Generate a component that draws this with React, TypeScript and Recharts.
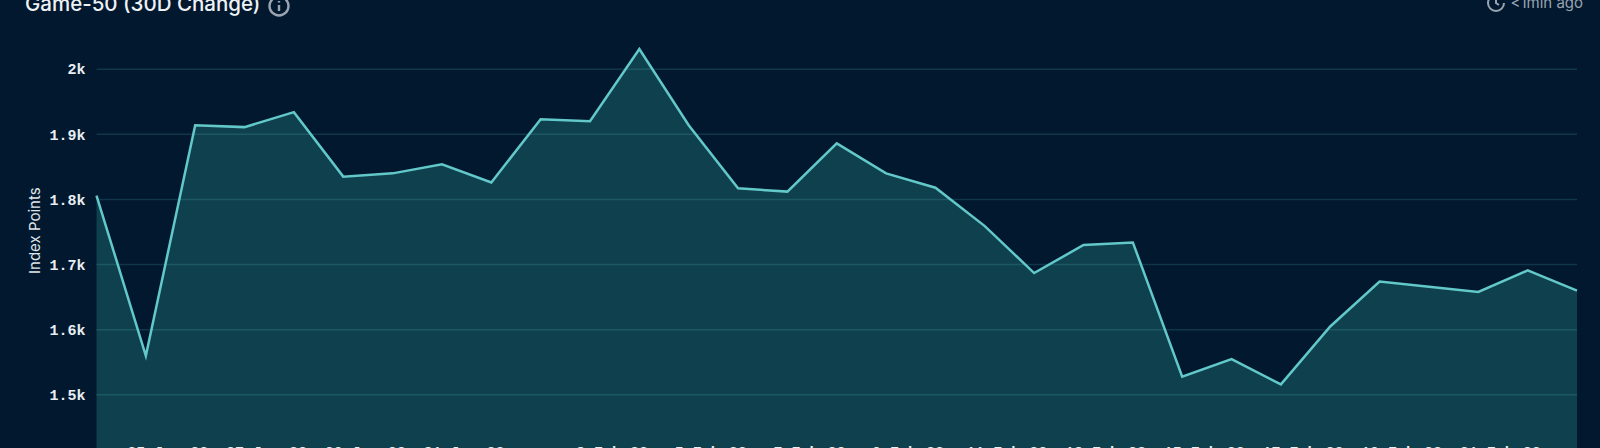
import { Area, AreaChart, CartesianGrid, XAxis, YAxis } from 'recharts'

const dates = [
  '24 Jan 22', '25 Jan 22', '26 Jan 22', '27 Jan 22', '28 Jan 22', '29 Jan 22', '30 Jan 22', '31 Jan 22',
  '1 Feb 22', '2 Feb 22', '3 Feb 22', '4 Feb 22', '5 Feb 22', '6 Feb 22', '7 Feb 22', '8 Feb 22', '9 Feb 22',
  '10 Feb 22', '11 Feb 22', '12 Feb 22', '13 Feb 22', '14 Feb 22', '15 Feb 22', '16 Feb 22', '17 Feb 22',
  '18 Feb 22', '19 Feb 22', '20 Feb 22', '21 Feb 22', '22 Feb 22', '23 Feb 22',
]
const indexPoints = [
  1806, 1560, 1914, 1911, 1934, 1835, 1840, 1854, 1826, 1923, 1920, 2031, 1914, 1817, 1812, 1886, 1840,
  1818, 1759, 1687, 1730, 1734, 1528, 1555, 1516, 1605, 1674, 1666, 1658, 1691, 1660,
]
const xTicks = [
  '25 Jan 22', '27 Jan 22', '29 Jan 22', '31 Jan 22', '3 Feb 22', '5 Feb 22', '7 Feb 22', '9 Feb 22',
  '11 Feb 22', '13 Feb 22', '15 Feb 22', '17 Feb 22', '19 Feb 22', '21 Feb 22',
]
const yTicks = [1500, 1600, 1700, 1800, 1900, 2000]

const chartData = dates.map((date, i) => ({ date, value: indexPoints[i] }))

const monoFont = '"Liberation Mono", monospace'
const uiFont = 'Inter, sans-serif'

function DateTick({ x, y, payload }: any) {
  return (
    <text x={x + 22} y={y - 11} textAnchor="middle" fill="#e8eef2" fontFamily={monoFont} fontSize={15} fontWeight={700}>
      {payload.value}
    </text>
  )
}

export default function App() {
  return (
    <div style={{ position: 'fixed', left: 0, top: 0, width: 1600, height: 448, overflow: 'hidden', background: '#01182f' }}>
      <div style={{ position: 'absolute', left: 25, top: -9, fontFamily: uiFont, fontSize: 20.5, fontWeight: 500, lineHeight: '26px', color: '#eef2f5', whiteSpace: 'nowrap' }}>
        Game-50 (30D Change)
      </div>
      <svg width={24} height={24} style={{ position: 'absolute', left: 267, top: -6 }} viewBox="0 0 24 24" fill="none" stroke="#9aa5b1" strokeWidth={2.4}>
        <circle cx={12} cy={12} r={9.5} />
        <path d="M12 11v6M12 7v1.5" />
      </svg>
      <svg width={20} height={20} style={{ position: 'absolute', left: 1486, top: -7 }} viewBox="0 0 20 20" fill="none" stroke="#9aa5b1" strokeWidth={2}>
        <path d="M10 2a8 8 0 1 0 8 8" />
        <path d="M10 6v4l3 2" />
      </svg>
      <div style={{ position: 'absolute', right: 17, top: -7, fontFamily: uiFont, fontSize: 15, lineHeight: '20px', color: '#98a4b0', whiteSpace: 'nowrap' }}>
        {'<1min ago'}
      </div>
      <AreaChart width={1600} height={490} data={chartData} margin={{ top: 4, right: 23, left: 0, bottom: 0 }}>
        <CartesianGrid vertical={false} horizontalValues={yTicks} stroke="#10364a" strokeWidth={1.5} />
        <XAxis dataKey="date" ticks={xTicks} interval={0} height={30} axisLine={false} tickLine={false} tick={DateTick} />
        <YAxis
          width={96.5}
          domain={[1400, 2100]}
          ticks={yTicks}
          axisLine={false}
          tickLine={false}
          tickMargin={5}
          tickFormatter={(v: number) => `${v / 1000}k`}
          tick={{ fill: '#e8eef2', fontFamily: monoFont, fontSize: 15, fontWeight: 700 }}
          label={{ value: 'Index Points', angle: -90, position: 'insideLeft', offset: 35, dy: 42, fill: '#dfe5ea', fontFamily: uiFont, fontSize: 15 }}
        />
        <Area
          type="linear"
          dataKey="value"
          stroke="#62c8ca"
          strokeWidth={2.5}
          fill="#4ce0c8"
          fillOpacity={0.2}
          dot={false}
          activeDot={false}
          isAnimationActive={false}
        />
      </AreaChart>
    </div>
  )
}
